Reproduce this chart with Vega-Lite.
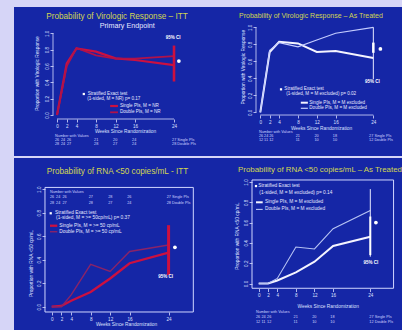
{
  "$schema": "https://vega.github.io/schema/vega-lite/v6.json",
  "background": "#d6d5f7",
  "padding": {"left": 14, "top": 7, "right": 0, "bottom": 0},
  "spacing": 2,
  "resolve": {"scale": {"color": "independent", "strokeWidth": "independent"}},
  "datasets": {
    "curves": [
      {"panel":"TL","series":"Single","week":0,"p":0},{"panel":"TL","series":"Single","week":2,"p":0.63},{"panel":"TL","series":"Single","week":4,"p":0.816},{"panel":"TL","series":"Single","week":8,"p":0.776},{"panel":"TL","series":"Single","week":12,"p":0.694},{"panel":"TL","series":"Single","week":16,"p":0.673},{"panel":"TL","series":"Single","week":24,"p":0.61},
      {"panel":"TL","series":"Double","week":0,"p":0},{"panel":"TL","series":"Double","week":2,"p":0.6},{"panel":"TL","series":"Double","week":4,"p":0.82},{"panel":"TL","series":"Double","week":8,"p":0.73},{"panel":"TL","series":"Double","week":12,"p":0.69},{"panel":"TL","series":"Double","week":16,"p":0.69},{"panel":"TL","series":"Double","week":24,"p":0.72},
      {"panel":"TR","series":"Single","week":0,"p":0},{"panel":"TR","series":"Single","week":2,"p":0.71},{"panel":"TR","series":"Single","week":4,"p":0.83},{"panel":"TR","series":"Single","week":8,"p":0.81},{"panel":"TR","series":"Single","week":12,"p":0.71},{"panel":"TR","series":"Single","week":16,"p":0.72},{"panel":"TR","series":"Single","week":24,"p":0.64},
      {"panel":"TR","series":"Double","week":0,"p":0},{"panel":"TR","series":"Double","week":2,"p":0.73},{"panel":"TR","series":"Double","week":4,"p":0.82},{"panel":"TR","series":"Double","week":8,"p":0.77},{"panel":"TR","series":"Double","week":12,"p":0.85},{"panel":"TR","series":"Double","week":16,"p":0.93},{"panel":"TR","series":"Double","week":24,"p":1.0},
      {"panel":"BL","series":"Single","week":0,"p":0},{"panel":"BL","series":"Single","week":2,"p":0.006},{"panel":"BL","series":"Single","week":4,"p":0.05},{"panel":"BL","series":"Single","week":8,"p":0.125},{"panel":"BL","series":"Single","week":12,"p":0.24},{"panel":"BL","series":"Single","week":16,"p":0.37},{"panel":"BL","series":"Single","week":24,"p":0.46},
      {"panel":"BL","series":"Double","week":0,"p":0},{"panel":"BL","series":"Double","week":2,"p":0},{"panel":"BL","series":"Double","week":4,"p":0.1},{"panel":"BL","series":"Double","week":8,"p":0.36},{"panel":"BL","series":"Double","week":12,"p":0.3},{"panel":"BL","series":"Double","week":16,"p":0.47},{"panel":"BL","series":"Double","week":24,"p":0.525},
      {"panel":"BR","series":"Single","week":0,"p":0},{"panel":"BR","series":"Single","week":2,"p":0},{"panel":"BR","series":"Single","week":4,"p":0.03},{"panel":"BR","series":"Single","week":8,"p":0.11},{"panel":"BR","series":"Single","week":12,"p":0.215},{"panel":"BR","series":"Single","week":16,"p":0.37},{"panel":"BR","series":"Single","week":24,"p":0.46},
      {"panel":"BR","series":"Double","week":0,"p":0},{"panel":"BR","series":"Double","week":2,"p":0},{"panel":"BR","series":"Double","week":4,"p":0.05},{"panel":"BR","series":"Double","week":8,"p":0.36},{"panel":"BR","series":"Double","week":12,"p":0.34},{"panel":"BR","series":"Double","week":16,"p":0.54},{"panel":"BR","series":"Double","week":24,"p":0.72}
    ],
    "segs": [
      {"panel":"TL","kind":"axis","week":0,"week2":24,"p":-0.049,"p2":-0.049},
      {"panel":"TL","kind":"axis","week":-0.82,"week2":-0.82,"p":0,"p2":1},
      {"panel":"TL","kind":"ci","week":24,"week2":24,"p":0.41,"p2":0.85},
      {"panel":"TL","kind":"key","series":"Single","week":10.9,"week2":12.5,"p":0.11,"p2":0.11},
      {"panel":"TL","kind":"key","series":"Double","week":10.9,"week2":12.5,"p":0.033,"p2":0.033},
      {"panel":"TR","kind":"axis","week":0,"week2":24,"p":-0.032,"p2":-0.032},
      {"panel":"TR","kind":"axis","week":-0.91,"week2":-0.91,"p":0,"p2":1},
      {"panel":"TR","kind":"ci","week":24,"week2":24,"p":0.39,"p2":1.0},
      {"panel":"TR","kind":"cib","week":24,"week2":24,"p":0.7,"p2":0.82},
      {"panel":"TR","kind":"key","series":"Single","week":8.6,"week2":10.1,"p":0.113,"p2":0.113},
      {"panel":"TR","kind":"key","series":"Double","week":8.6,"week2":10.1,"p":0.047,"p2":0.047},
      {"panel":"BL","kind":"frame","week":-1.38,"week2":29.08,"p":-0.045,"p2":1.015},
      {"panel":"BL","kind":"ci","week":24,"week2":24,"p":0.27,"p2":0.694},
      {"panel":"BL","kind":"key","series":"Single","week":-0.35,"week2":1.15,"p":0.689,"p2":0.689},
      {"panel":"BL","kind":"key","series":"Double","week":-0.35,"week2":1.15,"p":0.638,"p2":0.638},
      {"panel":"BR","kind":"frame","week":-1.44,"week2":29.0,"p":-0.047,"p2":1.02},
      {"panel":"BR","kind":"ci","week":24,"week2":24,"p":0.264,"p2":0.93},
      {"panel":"BR","kind":"cib","week":24,"week2":24,"p":0.28,"p2":0.66},
      {"panel":"BR","kind":"key","series":"Single","week":-0.58,"week2":0.86,"p":0.8,"p2":0.8},
      {"panel":"BR","kind":"key","series":"Double","week":-0.58,"week2":0.86,"p":0.73,"p2":0.73}
    ],
    "pts": [
      {"panel":"TL","kind":"dot","week":25.0,"p":0.66},
      {"panel":"TR","kind":"dot","week":25.5,"p":0.745},
      {"panel":"BL","kind":"dot","week":25.3,"p":0.505},
      {"panel":"BR","kind":"dot","week":25.2,"p":0.6},
      {"panel":"TL","kind":"bullet","week":5.5,"p":0.257},
      {"panel":"TR","kind":"bullet","week":4.4,"p":0.27},
      {"panel":"BL","kind":"bullet","week":-0.2,"p":0.795},
      {"panel":"BR","kind":"bullet","week":-0.58,"p":0.96}
    ],
    "labels": [
      {"panel":"TL","kind":"title","text":"Probability of Virologic Response – ITT","week":12.3,"p":1.2},
      {"panel":"TL","kind":"sub","text":"Primary Endpoint","week":14.4,"p":1.09},
      {"panel":"TL","kind":"ci","text":"95% CI","week":23.8,"p":0.94},
      {"panel":"TL","kind":"leg","text":"Stratified Exact test","week":6.3,"p":0.257},
      {"panel":"TL","kind":"leg","text":"(1-sided, M = NR) p= 0.17","week":6.2,"p":0.196},
      {"panel":"TL","kind":"leg","text":"Single PIs, M = NR","week":12.9,"p":0.11},
      {"panel":"TL","kind":"leg","text":"Double PIs, M = NR","week":12.9,"p":0.033},
      {"panel":"TL","kind":"tab","text":"Number with Values","week":-0.4,"p":-0.257},
      {"panel":"TL","kind":"tab","text":"26","week":-0.41,"p":-0.306},{"panel":"TL","kind":"tab","text":"24","week":0.82,"p":-0.306},{"panel":"TL","kind":"tab","text":"26","week":2.05,"p":-0.306},{"panel":"TL","kind":"tab","text":"21","week":7.6,"p":-0.306},{"panel":"TL","kind":"tab","text":"20","week":11.5,"p":-0.306},{"panel":"TL","kind":"tab","text":"24","week":15.4,"p":-0.306},{"panel":"TL","kind":"tab","text":"27 Single PIs","week":23.6,"p":-0.306},
      {"panel":"TL","kind":"tab","text":"28","week":-0.41,"p":-0.355},{"panel":"TL","kind":"tab","text":"24","week":0.82,"p":-0.355},{"panel":"TL","kind":"tab","text":"27","week":2.05,"p":-0.355},{"panel":"TL","kind":"tab","text":"28","week":7.6,"p":-0.355},{"panel":"TL","kind":"tab","text":"27","week":11.5,"p":-0.355},{"panel":"TL","kind":"tab","text":"24","week":15.4,"p":-0.355},{"panel":"TL","kind":"tab","text":"28 Double PIs","week":23.6,"p":-0.355},
      {"panel":"TR","kind":"title","text":"Probability of Virologic Response – As Treated","week":-4.52,"p":1.133},
      {"panel":"TR","kind":"ci","text":"95% CI","week":23.8,"p":0.36},
      {"panel":"TR","kind":"leg","text":"Stratified Exact test","week":5.1,"p":0.27},
      {"panel":"TR","kind":"leg","text":"(1-sided, M = M excluded) p= 0.02","week":5.5,"p":0.21},
      {"panel":"TR","kind":"leg","text":"Single PIs, M = M excluded","week":10.4,"p":0.113},
      {"panel":"TR","kind":"leg","text":"Double PIs, M = M excluded","week":10.4,"p":0.047},
      {"panel":"TR","kind":"tab","text":"Number with Values","week":-0.3,"p":-0.235},
      {"panel":"TR","kind":"tab","text":"26","week":-0.3,"p":-0.279},{"panel":"TR","kind":"tab","text":"24","week":0.8,"p":-0.279},{"panel":"TR","kind":"tab","text":"26","week":1.9,"p":-0.279},{"panel":"TR","kind":"tab","text":"21","week":7.5,"p":-0.279},{"panel":"TR","kind":"tab","text":"20","week":11.5,"p":-0.279},{"panel":"TR","kind":"tab","text":"18","week":15.4,"p":-0.279},{"panel":"TR","kind":"tab","text":"27 Single PIs","week":23.1,"p":-0.279},
      {"panel":"TR","kind":"tab","text":"12","week":-0.3,"p":-0.326},{"panel":"TR","kind":"tab","text":"11","week":0.8,"p":-0.326},{"panel":"TR","kind":"tab","text":"12","week":1.9,"p":-0.326},{"panel":"TR","kind":"tab","text":"11","week":7.5,"p":-0.326},{"panel":"TR","kind":"tab","text":"10","week":11.5,"p":-0.326},{"panel":"TR","kind":"tab","text":"10","week":15.4,"p":-0.326},{"panel":"TR","kind":"tab","text":"12 Double PIs","week":23.1,"p":-0.326},
      {"panel":"BL","kind":"title","text":"Probability of RNA <50 copies/mL - ITT","week":13.5,"p":1.146},
      {"panel":"BL","kind":"ci","text":"95% CI","week":23.4,"p":0.25},
      {"panel":"BL","kind":"leg","text":"Stratified Exact test","week":0.68,"p":0.795},
      {"panel":"BL","kind":"leg","text":"(1-sided, M = >= 50cp/mL) p= 0.37","week":0.9,"p":0.752},
      {"panel":"BL","kind":"leg","text":"Single PIs,  M = >= 50 cp/mL","week":1.56,"p":0.689},
      {"panel":"BL","kind":"leg","text":"Double PIs,  M = >= 50 cp/mL","week":1.56,"p":0.638},
      {"panel":"BL","kind":"tab","text":"Number with Values","week":-0.35,"p":0.974},
      {"panel":"BL","kind":"tab","text":"26","week":-0.35,"p":0.931},{"panel":"BL","kind":"tab","text":"24","week":0.9,"p":0.931},{"panel":"BL","kind":"tab","text":"26","week":2.2,"p":0.931},{"panel":"BL","kind":"tab","text":"27","week":7.6,"p":0.931},{"panel":"BL","kind":"tab","text":"28","week":11.6,"p":0.931},{"panel":"BL","kind":"tab","text":"26","week":15.5,"p":0.931},{"panel":"BL","kind":"tab","text":"27 Single PIs","week":23.6,"p":0.931},
      {"panel":"BL","kind":"tab","text":"28","week":-0.35,"p":0.885},{"panel":"BL","kind":"tab","text":"24","week":0.9,"p":0.885},{"panel":"BL","kind":"tab","text":"27","week":2.2,"p":0.885},{"panel":"BL","kind":"tab","text":"28","week":7.6,"p":0.885},{"panel":"BL","kind":"tab","text":"27","week":11.6,"p":0.885},{"panel":"BL","kind":"tab","text":"24","week":15.5,"p":0.885},{"panel":"BL","kind":"tab","text":"28 Double PIs","week":23.6,"p":0.885},
      {"panel":"BR","kind":"title","text":"Probability of RNA <50 copies/mL – As Treated","week":-4.45,"p":1.118},
      {"panel":"BR","kind":"ci","text":"95% CI","week":24.1,"p":0.2},
      {"panel":"BR","kind":"leg","text":"Stratified Exact test","week":-0.08,"p":0.96},
      {"panel":"BR","kind":"leg","text":"(1-sided, M = M excluded) p= 0.14","week":0.14,"p":0.89},
      {"panel":"BR","kind":"leg","text":"Single PIs,  M = M excluded","week":1.35,"p":0.8},
      {"panel":"BR","kind":"leg","text":"Double PIs,  M = M excluded","week":1.35,"p":0.73},
      {"panel":"BR","kind":"tab","text":"Number with Values","week":-0.6,"p":-0.278},
      {"panel":"BR","kind":"tab","text":"26","week":-0.6,"p":-0.327},{"panel":"BR","kind":"tab","text":"24","week":0.6,"p":-0.327},{"panel":"BR","kind":"tab","text":"26","week":1.8,"p":-0.327},{"panel":"BR","kind":"tab","text":"21","week":7.5,"p":-0.327},{"panel":"BR","kind":"tab","text":"20","week":11.5,"p":-0.327},{"panel":"BR","kind":"tab","text":"18","week":15.4,"p":-0.327},{"panel":"BR","kind":"tab","text":"27 Single PIs","week":23.8,"p":-0.327},
      {"panel":"BR","kind":"tab","text":"12","week":-0.6,"p":-0.376},{"panel":"BR","kind":"tab","text":"11","week":0.6,"p":-0.376},{"panel":"BR","kind":"tab","text":"12","week":1.8,"p":-0.376},{"panel":"BR","kind":"tab","text":"11","week":7.5,"p":-0.376},{"panel":"BR","kind":"tab","text":"10","week":11.5,"p":-0.376},{"panel":"BR","kind":"tab","text":"10","week":15.4,"p":-0.376},{"panel":"BR","kind":"tab","text":"12 Double PIs","week":23.8,"p":-0.376}
    ]
  },
  "vconcat": [
    {
      "spacing": 0,
      "resolve": {"scale": {"color": "independent", "strokeWidth": "independent"}},
      "hconcat": [
        {
          "width": 192, "height": 149,
          "encoding": {
            "x": {"field": "week", "type": "quantitative", "scale": {"domain": [-8.821, 30.564], "nice": false, "zero": false},
                  "axis": {"title": "Weeks Since Randomization", "values": [0,2,4,8,12,16,24], "offset": -37, "titleX": 111, "titleY": 12}},
            "y": {"field": "p", "type": "quantitative", "scale": {"domain": [-0.5018, 1.3219], "nice": false, "zero": false},
                  "axis": {"title": "Proportion with Virologic Response", "values": [0,0.2,0.4,0.6,0.8,1], "format": ".1f", "offset": -39, "labelAngle": -90, "titleX": -16, "titleY": 66}}
          },
          "layer": [
            {"data": {"name": "segs"}, "transform": [{"filter": "datum.panel=='TL' && datum.kind=='axis'"}], "mark": {"type": "rule", "color": "#d8dcff", "strokeWidth": 0.8}, "encoding": {"x2": {"field": "week2"}, "y2": {"field": "p2"}}},
            {"data": {"name": "curves"}, "transform": [{"filter": "datum.panel=='TL'"}], "mark": {"type": "line"},
             "encoding": {"color": {"field": "series", "type": "nominal", "scale": {"domain": ["Single","Double"], "range": ["#cc1040","#b0124a"]}, "legend": null},
                          "strokeWidth": {"field": "series", "type": "ordinal", "scale": {"domain": ["Single","Double"], "range": [2.2,1.8]}, "legend": null}}},
            {"data": {"name": "segs"}, "transform": [{"filter": "datum.panel=='TL' && datum.kind=='key'"}], "mark": {"type": "rule"},
             "encoding": {"x2": {"field": "week2"}, "y2": {"field": "p2"}, "color": {"field": "series", "type": "nominal", "legend": null}, "strokeWidth": {"field": "series", "type": "ordinal", "legend": null}}},
            {"data": {"name": "segs"}, "transform": [{"filter": "datum.panel=='TL' && datum.kind=='ci'"}], "mark": {"type": "rule", "color": "#cc1040", "strokeWidth": 2.6}, "encoding": {"x2": {"field": "week2"}, "y2": {"field": "p2"}}},
            {"data": {"name": "pts"}, "transform": [{"filter": "datum.panel=='TL' && datum.kind=='dot'"}], "mark": {"type": "circle", "color": "#ffffff", "opacity": 1, "size": 14}, "encoding": {}},
            {"data": {"name": "pts"}, "transform": [{"filter": "datum.panel=='TL' && datum.kind=='bullet'"}], "mark": {"type": "square", "color": "#ffffff", "opacity": 1, "size": 5}, "encoding": {}},
            {"data": {"name": "labels"}, "transform": [{"filter": "datum.panel=='TL' && datum.kind=='title'"}], "mark": {"type": "text", "fontSize": 8.2, "color": "#d2d651", "clip": true}, "encoding": {"text": {"field": "text"}}},
            {"data": {"name": "labels"}, "transform": [{"filter": "datum.panel=='TL' && datum.kind=='sub'"}], "mark": {"type": "text", "fontSize": 7.2, "color": "#e6e8ff"}, "encoding": {"text": {"field": "text"}}},
            {"data": {"name": "labels"}, "transform": [{"filter": "datum.panel=='TL' && datum.kind=='ci'"}], "mark": {"type": "text", "fontSize": 4.5, "fontWeight": "bold", "color": "#ffffff"}, "encoding": {"text": {"field": "text"}}},
            {"data": {"name": "labels"}, "transform": [{"filter": "datum.panel=='TL' && datum.kind=='leg'"}], "mark": {"type": "text", "align": "left", "fontSize": 4.6, "color": "#e6e8ff"}, "encoding": {"text": {"field": "text"}}},
            {"data": {"name": "labels"}, "transform": [{"filter": "datum.panel=='TL' && datum.kind=='tab'"}], "mark": {"type": "text", "align": "left", "fontSize": 3.8, "color": "#cfd4ff"}, "encoding": {"text": {"field": "text"}}}
          ]
        },
        {
          "width": 196, "height": 149,
          "encoding": {
            "x": {"field": "week", "type": "quantitative", "scale": {"domain": [-11.529, 30.085], "nice": false, "zero": false},
                  "axis": {"title": "Weeks Since Randomization", "values": [0,2,4,8,12,16,24], "offset": -41, "titleX": 115, "titleY": 13.3}},
            "y": {"field": "p", "type": "quantitative", "scale": {"domain": [-0.5141, 1.2388], "nice": false, "zero": false},
                  "axis": {"title": "Proportion with Virologic Response", "values": [0,0.2,0.4,0.6,0.8,1], "format": ".1f", "offset": -50, "labelAngle": -90, "titleX": -12.3, "titleY": 59.7}}
          },
          "layer": [
            {"data": {"name": "segs"}, "transform": [{"filter": "datum.panel=='TR' && datum.kind=='axis'"}], "mark": {"type": "rule", "color": "#d8dcff", "strokeWidth": 0.8}, "encoding": {"x2": {"field": "week2"}, "y2": {"field": "p2"}}},
            {"data": {"name": "curves"}, "transform": [{"filter": "datum.panel=='TR'"}], "mark": {"type": "line"},
             "encoding": {"color": {"field": "series", "type": "nominal", "scale": {"domain": ["Single","Double"], "range": ["#f4f4ff","#c4ccff"]}, "legend": null},
                          "strokeWidth": {"field": "series", "type": "ordinal", "scale": {"domain": ["Single","Double"], "range": [2,1.2]}, "legend": null}}},
            {"data": {"name": "segs"}, "transform": [{"filter": "datum.panel=='TR' && datum.kind=='key'"}], "mark": {"type": "rule"},
             "encoding": {"x2": {"field": "week2"}, "y2": {"field": "p2"}, "color": {"field": "series", "type": "nominal", "legend": null}, "strokeWidth": {"field": "series", "type": "ordinal", "legend": null}}},
            {"data": {"name": "segs"}, "transform": [{"filter": "datum.panel=='TR' && datum.kind=='ci'"}], "mark": {"type": "rule", "color": "#e8eaff", "strokeWidth": 1}, "encoding": {"x2": {"field": "week2"}, "y2": {"field": "p2"}}},
            {"data": {"name": "segs"}, "transform": [{"filter": "datum.panel=='TR' && datum.kind=='cib'"}], "mark": {"type": "rule", "color": "#ffffff", "strokeWidth": 2.5}, "encoding": {"x2": {"field": "week2"}, "y2": {"field": "p2"}}},
            {"data": {"name": "pts"}, "transform": [{"filter": "datum.panel=='TR' && datum.kind=='dot'"}], "mark": {"type": "circle", "color": "#ffffff", "opacity": 1, "size": 14}, "encoding": {}},
            {"data": {"name": "pts"}, "transform": [{"filter": "datum.panel=='TR' && datum.kind=='bullet'"}], "mark": {"type": "square", "color": "#ffffff", "opacity": 1, "size": 5}, "encoding": {}},
            {"data": {"name": "labels"}, "transform": [{"filter": "datum.panel=='TR' && datum.kind=='title'"}], "mark": {"type": "text", "align": "left", "fontSize": 7, "color": "#d2d651", "clip": true}, "encoding": {"text": {"field": "text"}}},
            {"data": {"name": "labels"}, "transform": [{"filter": "datum.panel=='TR' && datum.kind=='ci'"}], "mark": {"type": "text", "fontSize": 4.5, "fontWeight": "bold", "color": "#ffffff"}, "encoding": {"text": {"field": "text"}}},
            {"data": {"name": "labels"}, "transform": [{"filter": "datum.panel=='TR' && datum.kind=='leg'"}], "mark": {"type": "text", "align": "left", "fontSize": 4.6, "color": "#e6e8ff"}, "encoding": {"text": {"field": "text"}}},
            {"data": {"name": "labels"}, "transform": [{"filter": "datum.panel=='TR' && datum.kind=='tab'"}], "mark": {"type": "text", "align": "left", "fontSize": 3.8, "color": "#cfd4ff"}, "encoding": {"text": {"field": "text"}}}
          ]
        }
      ]
    },
    {
      "spacing": 0,
      "resolve": {"scale": {"color": "independent", "strokeWidth": "independent"}},
      "hconcat": [
        {
          "width": 192, "height": 172,
          "encoding": {
            "x": {"field": "week", "type": "quantitative", "scale": {"domain": [-7.741, 31.684], "nice": false, "zero": false},
                  "axis": {"title": "Weeks Since Randomization", "values": [0,2,4,8,12,16,24], "offset": -18, "titleX": 112, "titleY": 12}},
            "y": {"field": "p", "type": "quantitative", "scale": {"domain": [-0.1983, 1.2655], "nice": false, "zero": false},
                  "axis": {"title": "Proportion with RNA <50 cp/mL", "values": [0,0.2,0.4,0.6,0.8,1], "format": ".1f", "offset": -31, "labelAngle": -90, "titleX": -13.3, "titleY": 105}}
          },
          "layer": [
            {"data": {"name": "segs"}, "transform": [{"filter": "datum.panel=='BL' && datum.kind=='frame'"}], "mark": {"type": "rect", "fill": "#000000", "fillOpacity": 0, "stroke": "#d0d6ff", "strokeWidth": 1}, "encoding": {"x2": {"field": "week2"}, "y2": {"field": "p2"}}},
            {"data": {"name": "curves"}, "transform": [{"filter": "datum.panel=='BL'"}], "mark": {"type": "line"},
             "encoding": {"color": {"field": "series", "type": "nominal", "scale": {"domain": ["Single","Double"], "range": ["#cc1040","#8a2368"]}, "legend": null},
                          "strokeWidth": {"field": "series", "type": "ordinal", "scale": {"domain": ["Single","Double"], "range": [2.3,1.4]}, "legend": null}}},
            {"data": {"name": "segs"}, "transform": [{"filter": "datum.panel=='BL' && datum.kind=='key'"}], "mark": {"type": "rule"},
             "encoding": {"x2": {"field": "week2"}, "y2": {"field": "p2"}, "color": {"field": "series", "type": "nominal", "legend": null}, "strokeWidth": {"field": "series", "type": "ordinal", "legend": null}}},
            {"data": {"name": "segs"}, "transform": [{"filter": "datum.panel=='BL' && datum.kind=='ci'"}], "mark": {"type": "rule", "color": "#cc1040", "strokeWidth": 3}, "encoding": {"x2": {"field": "week2"}, "y2": {"field": "p2"}}},
            {"data": {"name": "pts"}, "transform": [{"filter": "datum.panel=='BL' && datum.kind=='dot'"}], "mark": {"type": "circle", "color": "#ffffff", "opacity": 1, "size": 14}, "encoding": {}},
            {"data": {"name": "pts"}, "transform": [{"filter": "datum.panel=='BL' && datum.kind=='bullet'"}], "mark": {"type": "square", "color": "#ffffff", "opacity": 1, "size": 5}, "encoding": {}},
            {"data": {"name": "labels"}, "transform": [{"filter": "datum.panel=='BL' && datum.kind=='title'"}], "mark": {"type": "text", "fontSize": 8.2, "color": "#d2d651", "clip": true}, "encoding": {"text": {"field": "text"}}},
            {"data": {"name": "labels"}, "transform": [{"filter": "datum.panel=='BL' && datum.kind=='ci'"}], "mark": {"type": "text", "fontSize": 4.5, "fontWeight": "bold", "color": "#ffffff"}, "encoding": {"text": {"field": "text"}}},
            {"data": {"name": "labels"}, "transform": [{"filter": "datum.panel=='BL' && datum.kind=='leg'"}], "mark": {"type": "text", "align": "left", "fontSize": 4.8, "color": "#e6e8ff"}, "encoding": {"text": {"field": "text"}}},
            {"data": {"name": "labels"}, "transform": [{"filter": "datum.panel=='BL' && datum.kind=='tab'"}], "mark": {"type": "text", "align": "left", "fontSize": 3.8, "color": "#cfd4ff"}, "encoding": {"text": {"field": "text"}}}
          ]
        },
        {
          "width": 196, "height": 172,
          "encoding": {
            "x": {"field": "week", "type": "quantitative", "scale": {"domain": [-11.333, 30.817], "nice": false, "zero": false},
                  "axis": {"title": "Weeks Since Randomization", "values": [0,2,4,8,12,16,24], "offset": -41.5, "titleX": 121.7, "titleY": 17.5}},
            "y": {"field": "p", "type": "quantitative", "scale": {"domain": [-0.4581, 1.2365], "nice": false, "zero": false},
                  "axis": {"title": "Proportion with RNA <50 cp/mL", "values": [0,0.2,0.4,0.6,0.8,1], "format": ".1f", "offset": -46, "labelAngle": -90, "titleX": -14.3, "titleY": 77.7}}
          },
          "layer": [
            {"data": {"name": "segs"}, "transform": [{"filter": "datum.panel=='BR' && datum.kind=='frame'"}], "mark": {"type": "rect", "fill": "#000000", "fillOpacity": 0, "stroke": "#d0d6ff", "strokeWidth": 1}, "encoding": {"x2": {"field": "week2"}, "y2": {"field": "p2"}}},
            {"data": {"name": "curves"}, "transform": [{"filter": "datum.panel=='BR'"}], "mark": {"type": "line"},
             "encoding": {"color": {"field": "series", "type": "nominal", "scale": {"domain": ["Single","Double"], "range": ["#f4f4ff","#b8c4f4"]}, "legend": null},
                          "strokeWidth": {"field": "series", "type": "ordinal", "scale": {"domain": ["Single","Double"], "range": [2,1.1]}, "legend": null}}},
            {"data": {"name": "segs"}, "transform": [{"filter": "datum.panel=='BR' && datum.kind=='key'"}], "mark": {"type": "rule"},
             "encoding": {"x2": {"field": "week2"}, "y2": {"field": "p2"}, "color": {"field": "series", "type": "nominal", "legend": null}, "strokeWidth": {"field": "series", "type": "ordinal", "legend": null}}},
            {"data": {"name": "segs"}, "transform": [{"filter": "datum.panel=='BR' && datum.kind=='ci'"}], "mark": {"type": "rule", "color": "#e8eaff", "strokeWidth": 1}, "encoding": {"x2": {"field": "week2"}, "y2": {"field": "p2"}}},
            {"data": {"name": "segs"}, "transform": [{"filter": "datum.panel=='BR' && datum.kind=='cib'"}], "mark": {"type": "rule", "color": "#ffffff", "strokeWidth": 2}, "encoding": {"x2": {"field": "week2"}, "y2": {"field": "p2"}}},
            {"data": {"name": "pts"}, "transform": [{"filter": "datum.panel=='BR' && datum.kind=='dot'"}], "mark": {"type": "circle", "color": "#ffffff", "opacity": 1, "size": 14}, "encoding": {}},
            {"data": {"name": "pts"}, "transform": [{"filter": "datum.panel=='BR' && datum.kind=='bullet'"}], "mark": {"type": "square", "color": "#ffffff", "opacity": 1, "size": 5}, "encoding": {}},
            {"data": {"name": "labels"}, "transform": [{"filter": "datum.panel=='BR' && datum.kind=='title'"}], "mark": {"type": "text", "align": "left", "fontSize": 7.9, "color": "#d2d651", "clip": true}, "encoding": {"text": {"field": "text"}}},
            {"data": {"name": "labels"}, "transform": [{"filter": "datum.panel=='BR' && datum.kind=='ci'"}], "mark": {"type": "text", "fontSize": 4.5, "fontWeight": "bold", "color": "#ffffff"}, "encoding": {"text": {"field": "text"}}},
            {"data": {"name": "labels"}, "transform": [{"filter": "datum.panel=='BR' && datum.kind=='leg'"}], "mark": {"type": "text", "align": "left", "fontSize": 4.8, "color": "#e6e8ff"}, "encoding": {"text": {"field": "text"}}},
            {"data": {"name": "labels"}, "transform": [{"filter": "datum.panel=='BR' && datum.kind=='tab'"}], "mark": {"type": "text", "align": "left", "fontSize": 3.8, "color": "#cfd4ff"}, "encoding": {"text": {"field": "text"}}}
          ]
        }
      ]
    }
  ],
  "config": {
    "font": "Liberation Sans",
    "view": {"stroke": null, "fill": "#1526a6"},
    "axis": {
      "domain": false, "grid": false, "ticks": true, "tickColor": "#d8dcff", "tickWidth": 0.8, "tickSize": 3,
      "labelColor": "#dde0ff", "labelFontSize": 4.6, "labelFont": "Liberation Sans", "labelPadding": 1,
      "labelFlush": false, "labelOverlap": false,
      "titleColor": "#dde0ff", "titleFontSize": 4.8, "titleFont": "Liberation Sans", "titleFontWeight": "normal", "titleBaseline": "middle"
    }
  }
}
